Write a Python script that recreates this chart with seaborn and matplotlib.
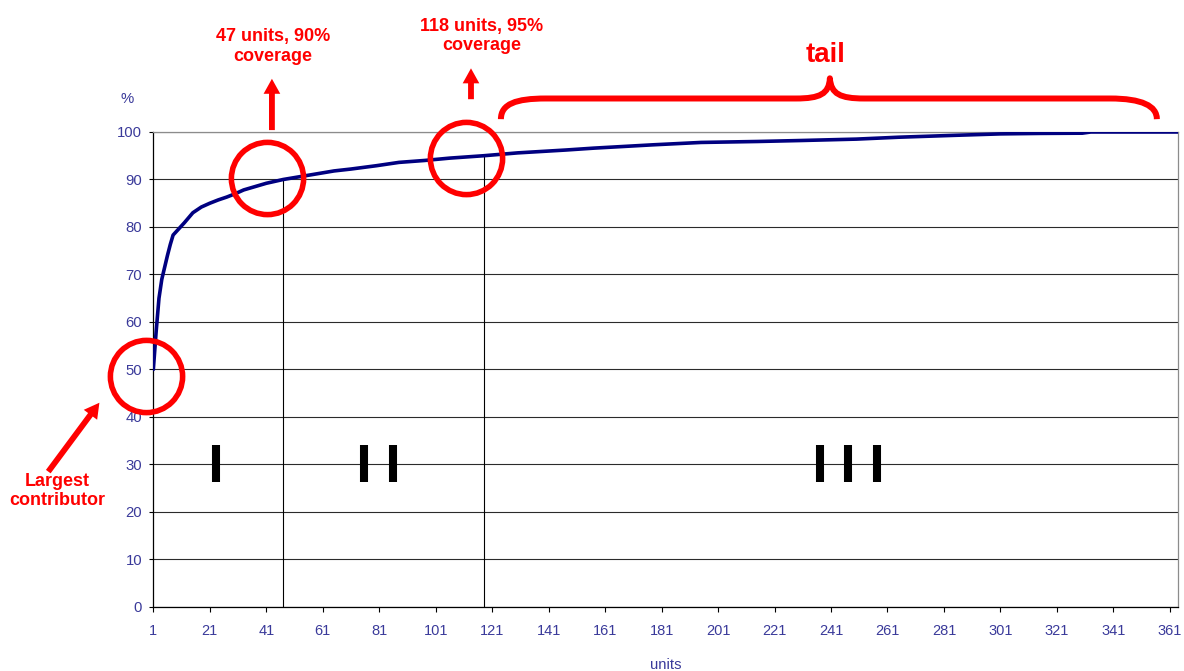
import matplotlib
matplotlib.use("Agg")
import matplotlib.pyplot as plt
from matplotlib.patches import FancyArrowPatch, PathPatch, ArrowStyle
from matplotlib.path import Path
import pandas as pd
import seaborn as sns

# Cumulative coverage (%) against number of units, largest contributors first
units = [1, 2, 3, 4, 5, 6, 7, 8, 10, 12, 15, 18, 21, 24, 27, 30, 33, 37, 41, 47,
         53, 59, 65, 71, 80, 88, 97, 106, 118, 130, 147, 157, 178, 195, 215, 230,
         250, 265, 285, 301, 315, 330, 333, 364]
coverage = [50, 58, 65, 69, 71.5, 74, 76.3, 78.3, 79.6, 80.9, 83.0, 84.2, 85.0,
            85.7, 86.3, 87.0, 87.8, 88.5, 89.2, 90.0, 90.6, 91.2, 91.8, 92.2,
            92.9, 93.6, 94.0, 94.5, 95.0, 95.6, 96.2, 96.6, 97.3, 97.8, 98.0,
            98.2, 98.5, 98.9, 99.3, 99.6, 99.7, 99.75, 100, 100]

# Coverage thresholds marked with drop lines
threshold_units = [47, 118]
threshold_coverage = [90, 95]

x_ticks = list(range(1, 362, 20))
y_ticks = list(range(0, 101, 10))

# Zone markers (I, II, III) sitting on the 30 % line
zone_marks = [23.3, 75.5, 85.8, 237.0, 246.9, 257.2]

sns.set_style("white")
plt.rcParams["font.family"] = ["Liberation Sans", "DejaVu Sans"]

red = "#FF0000"
tick_color = "#3A3A9A"

fig = plt.figure(figsize=(11.84, 6.71), dpi=100)
ax = fig.add_axes([0.1295, 0.0954, 0.8657, 0.7079])

df = pd.DataFrame({"units": units, "coverage": coverage})

ax.vlines(threshold_units, 0, threshold_coverage, color="black", lw=0.8, zorder=2)
ax.vlines(zone_marks, 26.4, 34.1, color="black", lw=5.8, zorder=2)
sns.lineplot(data=df, x="units", y="coverage", ax=ax, color="#000080", lw=2.6,
             zorder=3)

ax.set_xlim(1, 364)
ax.set_ylim(0, 100)
ax.set_xticks(x_ticks)
ax.set_yticks(y_ticks)
ax.set_axisbelow(True)
ax.yaxis.grid(True, color="#2b2b2b", lw=0.8)
ax.xaxis.grid(False)
for side in ["left", "bottom"]:
    ax.spines[side].set_color("black")
    ax.spines[side].set_linewidth(0.9)
for side in ["top", "right"]:
    ax.spines[side].set_color("#8c8c8c")
    ax.spines[side].set_linewidth(0.9)

ax.tick_params(axis="x", bottom=True, direction="out", length=3.6, width=0.8,
               color="black", pad=8.5, labelsize=10.5, labelcolor=tick_color)
ax.tick_params(axis="y", left=True, direction="out", length=3, width=0.8,
               color="black", pad=5, labelsize=10.7, labelcolor=tick_color)
ax.set_xlabel("")
ax.set_ylabel("")
ax.text(-0.0252, 1.069, "%", transform=ax.transAxes, ha="center", va="center",
        fontsize=10.7, color=tick_color)
ax.text(0.5, -0.1314, "units", transform=ax.transAxes, ha="center",
        va="baseline", fontsize=10.7, color=tick_color)

# Highlight circles
ax.plot([41.4, 111.7, -1.6], [90.3, 94.6, 48.6], ls="none", marker="o", ms=52,
        mfc="none", mec=red, mew=4, clip_on=False, zorder=5)

# Arrows
arrow_style = ArrowStyle.Simple(head_length=0.9, head_width=1.0, tail_width=0.35)
for start, end in [((43.0, 100.4), (43.0, 111.2)),
                   ((113.5, 106.9), (113.5, 113.4)),
                   ((-36.2, 28.5), (-18.1, 43.0))]:
    arr = FancyArrowPatch(start, end, arrowstyle=arrow_style, mutation_scale=12,
                          color=red, lw=0, shrinkA=0, shrinkB=0,
                          transform=ax.transData, clip_on=False, zorder=5)
    ax.add_artist(arr)

# Curly brace over the tail
M, C, L = Path.MOVETO, Path.CURVE4, Path.LINETO
brace_pts = [(124.1, 102.7),
             (124.1, 105.9), (129.4, 107.05), (140.0, 107.05),
             (228.6, 107.05),
             (237.0, 107.05), (240.3, 108.0), (240.6, 111.3),
             (241.0, 108.0), (244.3, 107.05), (252.7, 107.05),
             (339.8, 107.05),
             (351.1, 107.05), (356.4, 105.5), (356.4, 102.7)]
brace_codes = [M, C, C, C, L, C, C, C, C, C, C, L, C, C, C]
brace = PathPatch(Path(brace_pts, brace_codes), fill=False, edgecolor=red,
                  lw=4.3, capstyle="butt", joinstyle="round",
                  transform=ax.transData, clip_on=False, zorder=5)
ax.add_artist(brace)

txt = dict(color=red, fontweight="bold", ha="center", va="top", clip_on=False,
           zorder=6)
ax.text(43.3, 121.8, "47 units, 90%\ncoverage", fontsize=13, **txt)
ax.text(117.3, 124.1, "118 units, 95%\ncoverage", fontsize=13, **txt)
ax.text(239.0, 119.0, "tail", fontsize=20, **txt)
ax.text(-32.9, 28.3, "Largest\ncontributor", fontsize=13, **txt)

fig.savefig("out.png", dpi=100)
